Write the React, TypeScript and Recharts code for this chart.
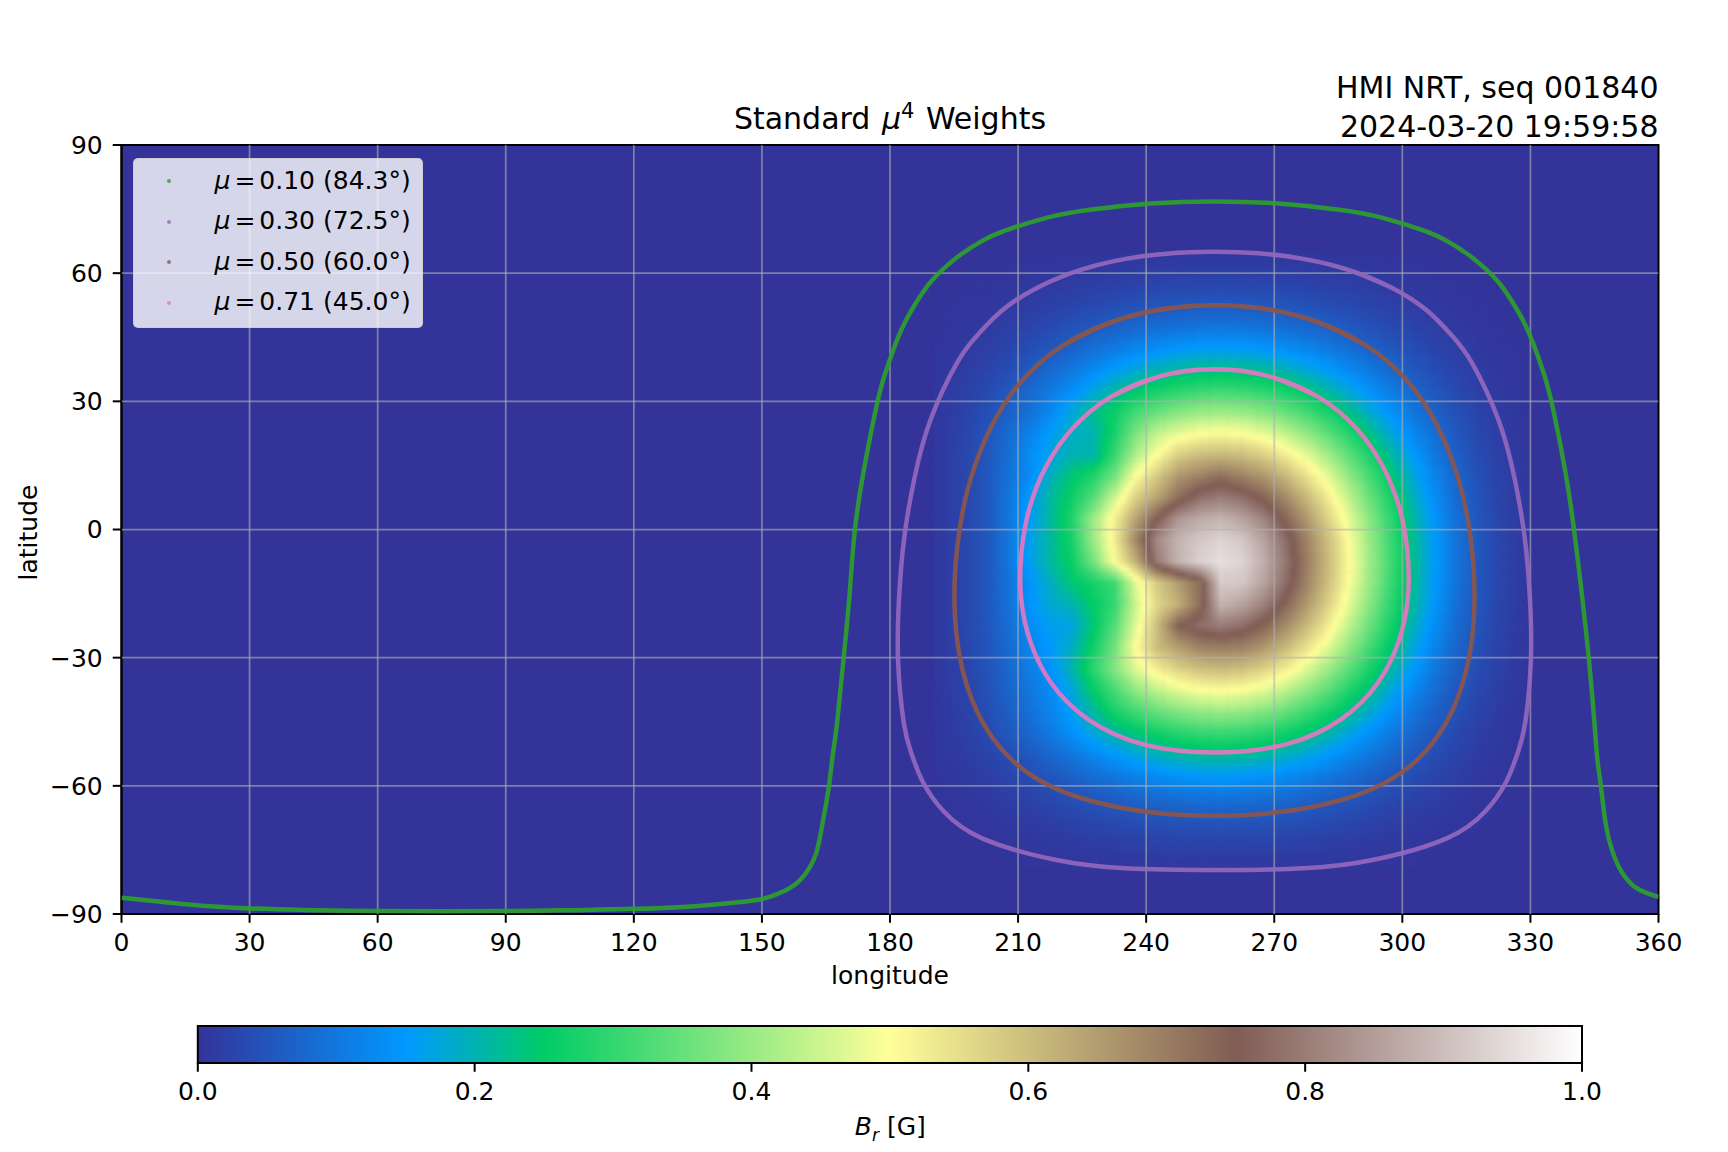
import {
  ComposedChart,
  Scatter,
  XAxis,
  YAxis,
  ReferenceArea,
  Legend,
  Label,
} from "recharts";

const FONT = "'DejaVu Sans', sans-serif";

// ─── data ───────────────────────────────────────────────────────────────────
const lonTicks = [0, 30, 60, 90, 120, 150, 180, 210, 240, 270, 300, 330, 360];
const latTicks = [-90, -60, -30, 0, 30, 60, 90];
const colorbarTicks = [0, 0.2, 0.4, 0.6, 0.8, 1];

const cellLons = [
  192.5, 197.5, 202.5, 207.5, 212.5, 217.5, 222.5, 227.5, 232.5, 237.5, 242.5, 247.5, 252.5, 257.5,
  262.5, 267.5, 272.5, 277.5, 282.5, 287.5, 292.5, 297.5, 302.5, 307.5, 312.5, 317.5, 322.5, 327.5,
];
const cellLats = [
  62.5, 57.5, 52.5, 47.5, 42.5, 37.5, 32.5, 27.5, 22.5, 17.5, 12.5, 7.5, 2.5, -2.5, -7.5, -12.5, -17.5,
  -22.5, -27.5, -32.5, -37.5, -42.5, -47.5, -52.5, -57.5, -62.5, -67.5, -72.5, -77.5,
];
// one row per latitude, one value per longitude
const weights = [
  [0, 0, 0, .002, .003, .004, .006, .007, .008, .01, .011, .012, .012, .012, .012, .012, .011, .01, .008, .007, .006, .004, .003, .002, .001, 0, 0, 0],
  [0, .002, .003, .005, .007, .01, .013, .016, .019, .022, .025, .027, .028, .029, .028, .027, .025, .022, .019, .016, .013, .01, .007, .005, .003, .002, .001, 0],
  [.002, .003, .006, .01, .014, .019, .025, .032, .038, .044, .049, .053, .055, .056, .055, .053, .049, .044, .038, .032, .025, .019, .014, .01, .006, .003, .002, .001],
  [.003, .006, .01, .017, .024, .033, .044, .055, .066, .076, .085, .091, .096, .097, .096, .091, .085, .076, .066, .055, .044, .033, .024, .017, .01, .006, .003, .001],
  [.005, .01, .017, .026, .038, .053, .069, .087, .104, .12, .134, .145, .152, .154, .152, .145, .134, .12, .104, .087, .069, .053, .038, .026, .017, .01, .005, .002],
  [.007, .014, .024, .038, .056, .078, .101, .127, .152, .175, .196, .212, .222, .225, .222, .212, .196, .175, .152, .127, .101, .078, .056, .038, .024, .014, .007, .003],
  [.01, .019, .033, .053, .077, .105, .135, .17, .209, .241, .269, .291, .305, .31, .305, .291, .269, .241, .209, .174, .139, .107, .077, .053, .033, .019, .01, .004],
  [.01, .022, .04, .065, .09, .125, .175, .22, .26, .315, .352, .381, .399, .405, .399, .381, .352, .315, .274, .228, .182, .14, .101, .069, .044, .025, .013, .005],
  [.012, .026, .048, .08, .115, .155, .19, .2, .27, .37, .44, .476, .499, .506, .499, .476, .44, .394, .342, .285, .228, .174, .127, .087, .055, .032, .016, .007],
  [.012, .028, .05, .085, .13, .17, .2, .2, .3, .42, .5, .571, .6, .608, .599, .571, .529, .473, .41, .342, .273, .209, .152, .104, .065, .038, .02, .008],
  [.012, .028, .052, .09, .13, .19, .24, .28, .36, .5, .58, .66, .69, .72, .69, .66, .611, .546, .474, .395, .316, .242, .176, .12, .076, .044, .023, .009],
  [.012, .028, .052, .095, .15, .21, .26, .33, .45, .57, .64, .72, .78, .8, .78, .736, .681, .609, .529, .44, .352, .27, .196, .134, .084, .049, .025, .01],
  [.012, .028, .052, .095, .155, .21, .28, .4, .52, .64, .75, .84, .87, .885, .86, .81, .736, .658, .572, .476, .381, .291, .212, .145, .091, .053, .027, .011],
  [.012, .028, .052, .095, .16, .21, .27, .4, .52, .68, .82, .885, .915, .935, .915, .86, .78, .69, .599, .498, .399, .305, .222, .152, .096, .055, .029, .012],
  [.012, .028, .052, .095, .16, .21, .26, .36, .5, .62, .8, .885, .93, .95, .935, .875, .795, .7, .608, .506, .405, .31, .225, .154, .097, .056, .029, .012],
  [.012, .028, .05, .09, .14, .19, .24, .27, .31, .47, .58, .65, .72, .92, .915, .86, .78, .69, .599, .498, .399, .305, .222, .152, .096, .055, .029, .012],
  [.012, .028, .05, .09, .14, .18, .2, .25, .3, .45, .56, .62, .72, .885, .86, .81, .736, .658, .572, .476, .381, .291, .212, .145, .091, .053, .027, .011],
  [.012, .028, .05, .085, .13, .16, .17, .24, .33, .47, .6, .74, .78, .8, .78, .736, .681, .609, .529, .44, .352, .27, .196, .134, .084, .049, .025, .01],
  [.012, .027, .048, .08, .12, .15, .19, .26, .36, .5, .6, .65, .69, .7, .692, .66, .611, .546, .474, .395, .316, .242, .176, .12, .076, .044, .023, .009],
  [.011, .025, .046, .075, .11, .14, .2, .29, .38, .47, .529, .571, .599, .608, .599, .571, .529, .473, .41, .342, .273, .209, .152, .104, .065, .038, .02, .008],
  [.01, .023, .042, .07, .1, .13, .17, .25, .32, .394, .44, .476, .499, .506, .499, .476, .44, .394, .342, .285, .228, .174, .127, .087, .055, .032, .016, .007],
  [.01, .021, .038, .062, .09, .12, .16, .21, .273, .315, .352, .381, .399, .405, .399, .381, .352, .315, .274, .228, .182, .14, .101, .069, .044, .025, .013, .005],
  [.008, .018, .033, .053, .077, .105, .139, .174, .209, .241, .269, .291, .305, .31, .305, .291, .269, .241, .209, .174, .139, .107, .077, .053, .033, .019, .01, .004],
  [.007, .014, .024, .038, .056, .078, .101, .127, .152, .175, .196, .212, .222, .225, .222, .212, .196, .175, .152, .127, .101, .078, .056, .038, .024, .014, .007, .003],
  [.005, .01, .017, .026, .038, .053, .069, .087, .104, .12, .134, .145, .152, .154, .152, .145, .134, .12, .104, .087, .069, .053, .038, .026, .017, .01, .005, .002],
  [.003, .006, .01, .017, .024, .033, .044, .055, .066, .076, .085, .091, .096, .097, .096, .091, .085, .076, .066, .055, .044, .033, .024, .017, .01, .006, .003, .001],
  [.002, .003, .006, .01, .014, .019, .025, .032, .038, .044, .049, .053, .055, .056, .055, .053, .049, .044, .038, .032, .025, .019, .014, .01, .006, .003, .002, .001],
  [0, .002, .003, .005, .007, .01, .013, .016, .019, .022, .025, .027, .028, .029, .028, .027, .025, .022, .019, .016, .013, .01, .007, .005, .003, .002, .001, 0],
  [0, 0, 0, .002, .003, .004, .006, .007, .008, .01, .011, .012, .012, .012, .012, .012, .011, .01, .008, .007, .006, .004, .003, .002, .001, 0, 0, 0],
];

// contours as [longitude, latitude]; the closed ones run a little past their start
const mu10: number[][] = [
  [0, -86.2], [15, -87.7], [30, -88.7], [45, -89.1], [60, -89.3], [90, -89.3], [105, -89.1], [120, -88.8], [135, -88.1],
  [145, -87.2], [150, -86.5], [153.4, -85.4], [156.6, -83.9], [159.2, -81.8], [161.2, -79.1], [162.7, -75.8], [163.7, -71.5], [164.7, -66],
  [165.7, -60], [166.7, -52], [167.6, -45.3], [169.1, -30.4], [170.5, -15.6], [171.7, -0.7], [173.9, 14], [176.8, 28.7], [178.7, 36], [181.2, 43.2],
  [184.3, 50], [189, 57.3], [192.5, 61], [196.5, 64.3], [201.5, 67.5], [207.1, 70], [216.8, 73], [226.3, 74.8], [241, 76.3], [256, 76.8],
  [271, 76.3], [285.7, 74.8], [295.2, 73], [304.9, 70], [310.5, 67.5], [315.5, 64.3], [319.5, 61], [323, 57.3], [327.7, 50],
  [330.8, 43.2], [333.3, 36], [335.2, 28.7], [338.1, 14], [340.3, -0.7], [342.1, -15.6], [343.7, -30.4], [345, -45.3], [345.7, -54], [346.5, -60],
  [347.5, -68], [349, -74.7], [351.4, -80.2], [354.5, -83.7], [357.3, -85.1], [360, -86],
];
const mu30: number[][] = [
  [200.3, 45.3], [206.3, 51.3], [214.5, 56.6], [225.4, 61], [239.5, 64], [256, 65], [272.5, 64], [286.6, 61], [297.5, 56.6], [305.7, 51.3],
  [311.7, 45.3], [316.3, 39], [322.5, 25.7], [326.3, 11.9], [328.7, -2.2], [329.9, -16.5], [330.1, -30.8], [328.8, -45.1], [327.1, -52.1],
  [324.3, -59.1], [319.5, -65.9], [310.4, -72.3], [293.3, -77.3], [277, -79.3], [256, -79.7], [235, -79.3], [218.7, -77.3],
  [201.6, -72.3], [192.5, -65.9], [187.7, -59.1], [184.9, -52.1], [183.2, -45.1], [181.9, -30.8], [182.1, -16.5], [183.3, -2.2], [185.7, 11.9], [189.5, 25.7],
  [195.7, 39], [200.3, 45.3], [206.3, 51.3], [214.5, 56.6], [225.4, 61], [239.5, 64], [256, 65], [272.5, 64], [286.6, 61], [297.5, 56.6],
];
const mu50: number[][] = [
  [219.9, 42.7], [235.7, 49.8], [256, 52.5], [276.3, 49.8], [292.1, 42.7], [302.8, 32.8], [309.6, 21.3], [313.9, 9], [316.2, -3.7],
  [316.9, -16.7], [315.7, -29.6], [311.8, -42.2], [303.4, -54], [286.1, -63.2], [256, -67], [225.9, -63.2], [208.6, -54],
  [200.2, -42.2], [196.3, -29.6], [195.1, -16.7], [195.8, -3.7], [198.1, 9], [202.4, 21.3], [209.2, 32.8], [219.9, 42.7],
  [235.7, 49.8], [256, 52.5], [276.3, 49.8], [292.1, 42.7],
];
const mu71: number[][] = [
  [231.6, 31], [243, 35.8], [256, 37.5], [269, 35.8], [280.4, 31], [289.1, 23.8], [295.3, 15], [299.3, 5.1], [301.2, -5.3],
  [301.3, -15.9], [299.1, -26.3], [294.2, -36], [285.7, -44.4], [272.7, -50.3], [256, -52.2], [239.3, -50.3], [226.3, -44.4],
  [217.8, -36], [212.9, -26.3], [210.7, -15.9], [210.8, -5.3], [212.7, 5.1], [216.7, 15], [222.9, 23.8], [231.6, 31],
  [243, 35.8], [256, 37.5], [269, 35.8], [280.4, 31],
];

const contours = [
  { name: "0.10 (84.3°)", color: "#2ca02c", points: mu10 },
  { name: "0.30 (72.5°)", color: "#9467bd", points: mu30 },
  { name: "0.50 (60.0°)", color: "#8c564b", points: mu50 },
  { name: "0.71 (45.0°)", color: "#e377c2", points: mu71 },
];

// terrain colormap
const TERRAIN: [number, number, number, number][] = [
  [0, 51, 51, 153],
  [0.15, 0, 153, 255],
  [0.25, 0, 204, 102],
  [0.5, 255, 255, 153],
  [0.75, 128, 92, 84],
  [1, 255, 255, 255],
];

function terrain(v: number) {
  for (let i = 1; i < TERRAIN.length; i++) {
    const [p1, r1, g1, b1] = TERRAIN[i];
    if (v <= p1) {
      const [p0, r0, g0, b0] = TERRAIN[i - 1];
      const t = (v - p0) / (p1 - p0);
      return `rgb(${r0 + (r1 - r0) * t},${g0 + (g1 - g0) * t},${b0 + (b1 - b0) * t})`;
    }
  }
  return "#fff";
}

const cells = cellLats.flatMap((lat, r) =>
  cellLons.map((lon, c) => ({ lon, lat, weight: weights[r][c], r, c })),
);

// plot box in the 1728x1152 picture
const LEFT = 121.5;
const RIGHT = 1658.5;
const TOP = 145;
const BOTTOM = 914;
const CHART_H = 1010;
const PX_PER_CELL = (5 * (RIGHT - LEFT)) / 360;
const SUB = 5;

const tickStyle = { fill: "#000", fontSize: 25, fontFamily: FONT };
const fmtLat = (v: number) => String(v).replace("-", "−");

const at = (r: number, c: number) => weights[r]?.[c] ?? 0;

// gouraud style shading inside one cell, like pcolormesh(shading="gouraud")
function shade(r: number, c: number, fr: number, fc: number) {
  const r0 = fr < 0 ? r - 1 : r;
  const c0 = fc < 0 ? c - 1 : c;
  const tr = fr < 0 ? 1 + fr : fr;
  const tc = fc < 0 ? 1 + fc : fc;
  const top = at(r0, c0) * (1 - tc) + at(r0, c0 + 1) * tc;
  const bot = at(r0 + 1, c0) * (1 - tc) + at(r0 + 1, c0 + 1) * tc;
  return top * (1 - tr) + bot * tr;
}

function HeatCell({ cx, cy, payload }: any) {
  const step = PX_PER_CELL / SUB;
  const parts = [];
  for (let i = 0; i < SUB; i++) {
    for (let j = 0; j < SUB; j++) {
      const fr = (i + 0.5) / SUB - 0.5;
      const fc = (j + 0.5) / SUB - 0.5;
      parts.push(
        <rect
          key={i * SUB + j}
          x={cx - PX_PER_CELL / 2 + j * step}
          y={cy - PX_PER_CELL / 2 + i * step}
          width={step + 0.6}
          height={step + 0.6}
          fill={terrain(shade(payload.r, payload.c, fr, fc))}
        />,
      );
    }
  }
  return <g>{parts}</g>;
}

function LegendBox({ payload }: any) {
  const rows = (payload ?? []).filter((p: any) => p.type !== "none");
  return (
    <div
      style={{
        position: "absolute",
        left: 132.5,
        top: 157.5,
        width: 290,
        height: 170,
        boxSizing: "border-box",
        background: "rgba(255,255,255,0.8)",
        border: "1px solid rgba(204,204,204,0.8)",
        borderRadius: 5,
      }}
    >
      {rows.map((p: any, i: number) => (
        <div
          key={p.value}
          style={{ position: "absolute", left: 0, top: 3 + i * 40.6, height: 38, lineHeight: "38px", whiteSpace: "nowrap", fontFamily: FONT, fontSize: 25, color: "#000" }}
        >
          <span style={{ position: "absolute", left: 33.5, top: 17.5, width: 4, height: 4, borderRadius: 2, background: p.color, opacity: 0.8 }} />
          <span style={{ position: "absolute", left: 81 }}>
            <i>μ</i>
            <span style={{ margin: "0 4px" }}>=</span>
            {p.value}
          </span>
        </div>
      ))}
    </div>
  );
}

const gridLines = [
  ...lonTicks.slice(1, -1).map((lon) => [{ lon, lat: -90 }, { lon, lat: 90 }]),
  ...latTicks.slice(1, -1).map((lat) => [{ lon: 0, lat }, { lon: 360, lat }]),
];

const textBase = { position: "absolute" as const, fontFamily: FONT, color: "#000", whiteSpace: "nowrap" as const };
const noDot = () => <g />;

export default function App() {
  return (
    <div style={{ position: "absolute", left: 0, top: 0, width: 1728, height: 1152, overflow: "hidden", background: "#fff" }}>
      <style>{`.heat-cells { filter: blur(1.5px); }`}</style>

      <div style={{ ...textBase, left: LEFT, width: RIGHT - LEFT, top: 101, textAlign: "center", fontSize: 30, lineHeight: "36px" }}>
        Standard <i style={{ marginLeft: 2 }}>μ</i>
        <sup style={{ fontSize: 21, lineHeight: 0, marginRight: 2 }}>4</sup> Weights
      </div>
      <div style={{ ...textBase, right: 1728 - RIGHT, top: 68, textAlign: "right", fontSize: 30, lineHeight: "39px" }}>
        HMI NRT, seq 001840
        <br />
        2024-03-20 19:59:58
      </div>

      <ComposedChart
        width={1728}
        height={CHART_H}
        margin={{ top: TOP, right: 1728 - RIGHT, bottom: 0, left: 0 }}
        style={{ position: "absolute", left: 0, top: 0 }}
      >
        <XAxis
          type="number"
          dataKey="lon"
          domain={[0, 360]}
          ticks={lonTicks}
          interval={0}
          allowDataOverflow
          height={CHART_H - BOTTOM}
          tickSize={8.75}
          tickMargin={10}
          tick={tickStyle}
          stroke="#000"
          strokeWidth={2}
        >
          <Label value="longitude" position="insideTop" offset={52} style={tickStyle} />
        </XAxis>
        <YAxis
          type="number"
          dataKey="lat"
          domain={[-90, 90]}
          ticks={latTicks}
          interval={0}
          allowDataOverflow
          width={LEFT}
          tickSize={8.75}
          tickMargin={10}
          tick={tickStyle}
          tickFormatter={fmtLat}
          stroke="#000"
          strokeWidth={2}
        >
          <Label value="latitude" angle={-90} position="insideLeft" offset={28} dy={3} style={{ ...tickStyle, textAnchor: "middle" }} />
        </YAxis>

        <ReferenceArea x1={0} x2={360} y1={-90} y2={90} fill="#333399" fillOpacity={1} stroke="none" />
        <Scatter data={cells} shape={HeatCell} className="heat-cells" legendType="none" isAnimationActive={false} />
        {gridLines.map((g, i) => (
          <Scatter
            key={i}
            data={g}
            line={{ stroke: "#b0b0b0", strokeOpacity: 0.6, strokeWidth: 1.75 }}
            shape={noDot}
            legendType="none"
            isAnimationActive={false}
          />
        ))}
        {contours.map((c) => (
          <Scatter
            key={c.name}
            name={c.name}
            data={c.points.map(([lon, lat]) => ({ lon, lat }))}
            fill={c.color}
            line={{ stroke: c.color, strokeWidth: 4.5, strokeOpacity: 0.92 }}
            lineJointType="natural"
            shape={noDot}
            isAnimationActive={false}
          />
        ))}
        <ReferenceArea x1={0} x2={360} y1={-90} y2={90} fill="none" stroke="#000" strokeWidth={2} />
        <Legend content={LegendBox} wrapperStyle={{ position: "absolute", left: 0, top: 0, width: 0, height: 0 }} />
      </ComposedChart>

      <ComposedChart
        width={1728}
        height={152}
        margin={{ top: 26, right: 1728 - 1582, bottom: 0, left: 197.8 }}
        style={{ position: "absolute", left: 0, top: 1000 }}
      >
        <defs>
          <linearGradient id="terrainBar" x1="0" x2="1" y1="0" y2="0">
            {TERRAIN.map(([p, r, g, b]) => (
              <stop key={p} offset={p} stopColor={`rgb(${r},${g},${b})`} />
            ))}
          </linearGradient>
        </defs>
        <XAxis
          type="number"
          dataKey="v"
          domain={[0, 1]}
          ticks={colorbarTicks}
          interval={0}
          height={89}
          tickSize={8.75}
          tickMargin={10}
          tick={tickStyle}
          tickFormatter={(v: number) => v.toFixed(1)}
          stroke="#000"
          strokeWidth={2}
        />
        <YAxis type="number" dataKey="y" domain={[0, 1]} hide />
        <Scatter data={colorbarTicks.map((v) => ({ v, y: 0 }))} shape={noDot} isAnimationActive={false} />
        <ReferenceArea x1={0} x2={1} y1={0} y2={1} fill="url(#terrainBar)" fillOpacity={1} stroke="#000" strokeWidth={2} />
      </ComposedChart>

      <div style={{ ...textBase, left: 197.8, width: 1385, top: 1112, textAlign: "center", fontSize: 25, lineHeight: "30px" }}>
        <i>B</i>
        <sub style={{ fontSize: 17, lineHeight: 0 }}>
          <i>r</i>
        </sub>{" "}
        [G]
      </div>
    </div>
  );
}
